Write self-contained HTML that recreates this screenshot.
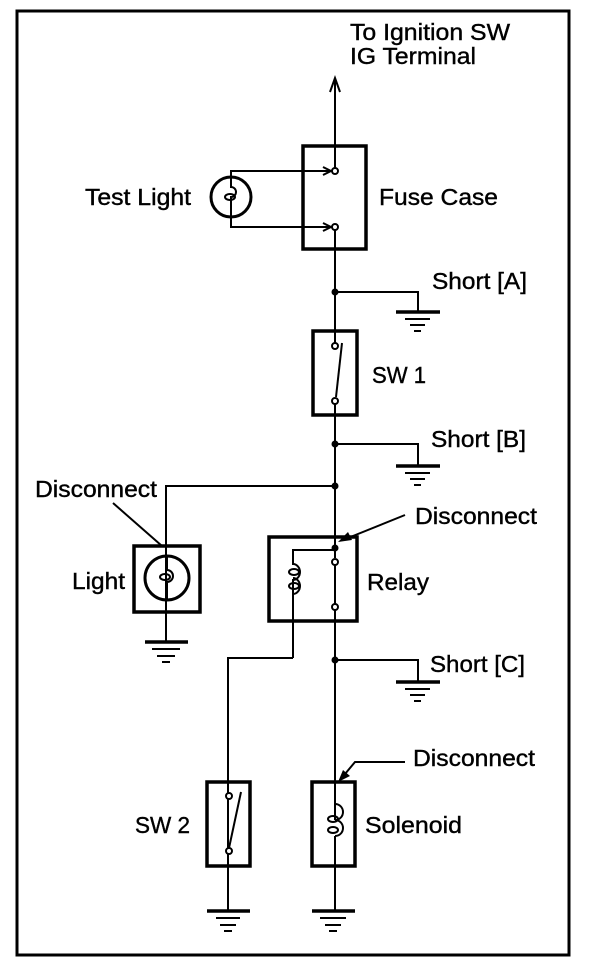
<!DOCTYPE html>
<html><head><style>body{margin:0;background:#fff}svg{display:block}text{font-family:"Liberation Sans",sans-serif;font-size:23px;fill:#000;stroke:#000;stroke-width:0.4}</style></head>
<body>
<svg width="608" height="976" viewBox="0 0 608 976" xmlns="http://www.w3.org/2000/svg">
<g fill="none" stroke="#000" stroke-width="2">
<rect x="17" y="11" width="552" height="944" stroke-width="3"/>
<line x1="335" y1="78" x2="335" y2="168"/>
<polyline points="330,92 335,78 340,92"/>
<line x1="335" y1="230" x2="335" y2="343"/>
<line x1="335" y1="404" x2="335" y2="558"/>
<line x1="335" y1="592" x2="335" y2="820"/>
<line x1="335" y1="842" x2="335" y2="910"/>
<rect x="303" y="146" width="63" height="103" stroke-width="3.5"/>
<circle cx="335" cy="171" r="3" fill="#fff"/>
<circle cx="335" cy="227" r="3" fill="#fff"/>
<circle cx="231" cy="197" r="20" stroke-width="3"/>
<polyline points="231,177 231,171 331,171"/>
<polyline points="231,217 231,227 331,227"/>
<polyline points="323,167 331,171 323,175"/>
<polyline points="323,223 331,227 323,231"/>
<path d="M231,177 v10 a5,5 0 0 1 0,10 v20"/>
<ellipse cx="230" cy="197" rx="5" ry="3"/>
<polyline points="335,292 418,292 418,312"/>
<line x1="396" y1="312" x2="440" y2="312" stroke-width="3.5"/>
<line x1="405" y1="319" x2="430" y2="319"/>
<line x1="410" y1="325" x2="425" y2="325"/>
<line x1="414" y1="331" x2="421" y2="331"/>
<rect x="313" y="331" width="44" height="84" stroke-width="3.5"/>
<circle cx="335" cy="346" r="3" fill="#fff"/>
<circle cx="335" cy="401" r="3" fill="#fff"/>
<line x1="342" y1="343" x2="336" y2="397"/>
<polyline points="335,444 418,444 418,466"/>
<line x1="396" y1="466" x2="440" y2="466" stroke-width="3.5"/>
<line x1="405" y1="473" x2="430" y2="473"/>
<line x1="410" y1="479" x2="425" y2="479"/>
<line x1="414" y1="485" x2="421" y2="485"/>
<polyline points="335,486 166,486 166,642"/>
<rect x="134" y="546" width="66" height="66" stroke-width="3.5"/>
<circle cx="167" cy="578" r="22" stroke-width="3"/>
<path d="M167,556 v14 a5,5 0 0 1 0,12 v18" fill="#fff"/>
<ellipse cx="165" cy="577" rx="5" ry="3"/>
<line x1="145" y1="642" x2="188" y2="642" stroke-width="3.5"/>
<line x1="152" y1="649" x2="180" y2="649"/>
<line x1="157" y1="656" x2="175" y2="656"/>
<line x1="162" y1="662" x2="170" y2="662"/>
<line x1="113" y1="503" x2="162" y2="546"/>
<rect x="269" y="537" width="88" height="84" stroke-width="3.5"/>
<path d="M293,658 v-78 c4,0 7,-4 7,-8 c0,-4 -3,-8 -7,-8 v-14 h42" />
<path d="M293,594 c4,0 7,-4 7,-8 c0,-4 -3,-8 -7,-8"/>
<ellipse cx="294" cy="572" rx="5" ry="3"/>
<ellipse cx="294" cy="586" rx="5" ry="3"/>
<line x1="293" y1="594" x2="293" y2="658"/>
<circle cx="335" cy="562" r="3" fill="#fff"/>
<circle cx="335" cy="607" r="3" fill="#fff"/>
<line x1="335" y1="565" x2="335" y2="604"/>
<polyline points="293,658 228,658 228,782"/>
<line x1="405" y1="515" x2="343" y2="540"/>
<polyline points="335,660 418,660 418,682"/>
<line x1="396" y1="682" x2="440" y2="682" stroke-width="3.5"/>
<line x1="405" y1="689" x2="430" y2="689"/>
<line x1="410" y1="695" x2="425" y2="695"/>
<line x1="414" y1="701" x2="421" y2="701"/>
<line x1="228" y1="782" x2="228" y2="910"/>
<rect x="207" y="782" width="43" height="84" stroke-width="3.5"/>
<circle cx="229" cy="796" r="3" fill="#fff"/>
<circle cx="229" cy="851" r="3" fill="#fff"/>
<line x1="241" y1="792" x2="229" y2="848"/>
<line x1="207" y1="911" x2="250" y2="911" stroke-width="3.5"/>
<line x1="216" y1="918" x2="240" y2="918"/>
<line x1="220" y1="925" x2="236" y2="925"/>
<line x1="224" y1="931" x2="232" y2="931"/>
<rect x="312" y="782" width="43" height="84" stroke-width="3.5"/>
<path d="M335,804 c5,0 8,4 8,8 c0,4 -3,8 -8,8 c5,0 8,4 8,8 c0,4 -3,8 -8,8"/>
<ellipse cx="333" cy="819" rx="5" ry="3"/>
<ellipse cx="333" cy="830" rx="5" ry="3"/>
<line x1="335" y1="782" x2="335" y2="804"/>
<line x1="335" y1="836" x2="335" y2="866"/>
<line x1="312" y1="911" x2="355" y2="911" stroke-width="3.5"/>
<line x1="320" y1="918" x2="346" y2="918"/>
<line x1="325" y1="925" x2="341" y2="925"/>
<line x1="329" y1="931" x2="337" y2="931"/>
<polyline points="405,762 355,762 340,780"/>
</g>
<g fill="#000">
<circle cx="335" cy="292" r="3.5"/>
<circle cx="335" cy="444" r="3.5"/>
<circle cx="335" cy="486" r="3.5"/>
<circle cx="335" cy="548" r="3.5"/>
<circle cx="335" cy="660" r="3.5"/>
<polygon points="338,542 348,532 352,540"/>
<polygon points="338,782 343,770 350,776"/>
</g>
<text x="350" y="40" textLength="160" lengthAdjust="spacingAndGlyphs">To Ignition SW</text>
<text x="350" y="64" textLength="126" lengthAdjust="spacingAndGlyphs">IG Terminal</text>
<text x="85" y="205" textLength="106" lengthAdjust="spacingAndGlyphs">Test Light</text>
<text x="379" y="205" textLength="119" lengthAdjust="spacingAndGlyphs">Fuse Case</text>
<text x="432" y="289" textLength="95" lengthAdjust="spacingAndGlyphs">Short [A]</text>
<text x="372" y="383" textLength="54" lengthAdjust="spacingAndGlyphs">SW 1</text>
<text x="431" y="447" textLength="95" lengthAdjust="spacingAndGlyphs">Short [B]</text>
<text x="35" y="497" textLength="122" lengthAdjust="spacingAndGlyphs">Disconnect</text>
<text x="415" y="524" textLength="122" lengthAdjust="spacingAndGlyphs">Disconnect</text>
<text x="72" y="589" textLength="53" lengthAdjust="spacingAndGlyphs">Light</text>
<text x="367" y="590" textLength="62" lengthAdjust="spacingAndGlyphs">Relay</text>
<text x="430" y="672" textLength="95" lengthAdjust="spacingAndGlyphs">Short [C]</text>
<text x="413" y="766" textLength="122" lengthAdjust="spacingAndGlyphs">Disconnect</text>
<text x="135" y="833" textLength="55" lengthAdjust="spacingAndGlyphs">SW 2</text>
<text x="365" y="833" textLength="97" lengthAdjust="spacingAndGlyphs">Solenoid</text>
</svg>
</body></html>
